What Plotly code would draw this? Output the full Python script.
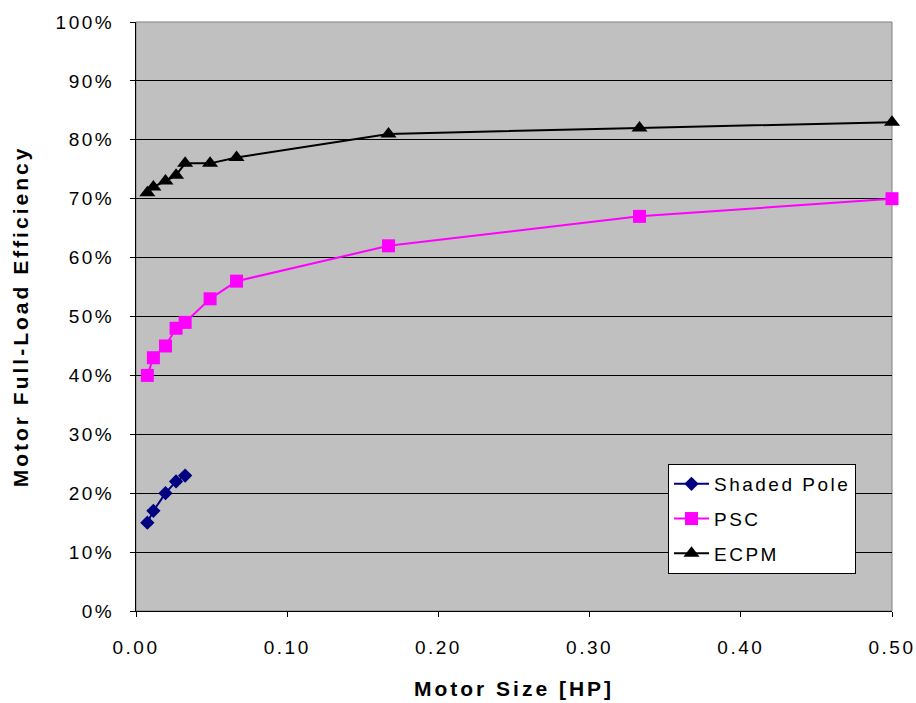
import plotly.graph_objects as go

motor_size_hp = [0.0075, 0.0115, 0.0195, 0.0265, 0.0325, 0.049, 0.0665, 0.167, 0.333, 0.5]
shaded_pole_size = [0.0075, 0.0115, 0.0195, 0.0265, 0.0325]
shaded_pole_eff = [15, 17, 20, 22, 23]
psc_eff = [40, 43, 45, 48, 49, 53, 56, 62, 67, 70]
ecpm_eff = [71, 72, 73, 74, 76, 76, 77, 81, 82, 83]

x_ticks = [0.0, 0.1, 0.2, 0.3, 0.4, 0.5]
y_ticks = [0, 10, 20, 30, 40, 50, 60, 70, 80, 90, 100]
y_tick_labels = ["0%", "10%", "20%", "30%", "40%", "50%", "60%", "70%", "80%", "90%", "100%"]

FONT = "Liberation Sans, Arial, sans-serif"

fig = go.Figure()
fig.add_trace(go.Scatter(
    x=shaded_pole_size, y=shaded_pole_eff, name="Shaded Pole", mode="lines+markers",
    line=dict(color="#000080", width=2),
    marker=dict(symbol="diamond", size=11, color="#000080"),
    legendgroup="a", cliponaxis=False))
fig.add_trace(go.Scatter(
    x=motor_size_hp, y=psc_eff, name="PSC", mode="lines+markers",
    line=dict(color="#FF00FF", width=2),
    marker=dict(symbol="square", size=13, color="#FF00FF"),
    legendgroup="b", cliponaxis=False))
fig.add_trace(go.Scatter(
    x=motor_size_hp, y=ecpm_eff, name="ECPM", mode="lines+markers",
    line=dict(color="#000000", width=2),
    marker=dict(symbol="triangle-up", size=14, color="#000000"),
    legendgroup="c", cliponaxis=False))

fig.update_layout(
    width=916, height=703,
    margin=dict(l=136, r=24, t=22, b=92),
    paper_bgcolor="white",
    plot_bgcolor="#C0C0C0",
    font=dict(family=FONT, size=19, color="black"),
    showlegend=True,
    legend=dict(
        x=0.7037, y=0.2496, xanchor="left", yanchor="top",
        bgcolor="white", bordercolor="black", borderwidth=1,
        font=dict(family=FONT, size=19, color="black"),
        tracegroupgap=7, itemwidth=35,
    ),
    xaxis=dict(
        range=[0, 0.5], tickvals=x_ticks, tickformat=".2f",
        showgrid=False, zeroline=False,
        showline=True, linecolor="black", linewidth=1,
        ticks="outside", ticklen=5, tickcolor="black",
        ticklabelstandoff=14,
        automargin=False,
        title=dict(text="<b>Motor Size [HP]</b>", font=dict(family=FONT, size=21), standoff=24),
    ),
    yaxis=dict(
        range=[0, 100], tickvals=y_ticks, ticktext=y_tick_labels,
        showgrid=True, gridcolor="black", gridwidth=1,
        zeroline=False,
        showline=True, linecolor="black", linewidth=1,
        ticks="outside", ticklen=5, tickcolor="black",
        ticklabelstandoff=12,
        automargin=False,
        title=dict(text="<b>Motor Full-Load Efficiency</b>", font=dict(family=FONT, size=21), standoff=31),
    ),
)
fig.add_shape(type="rect", xref="paper", yref="paper", x0=0, y0=0, x1=1, y1=1,
              line=dict(color="#808080", width=1), layer="below")

post = """
document.body.style.margin = '0';
document.body.style.overflow = 'hidden';
var gd = document.getElementById('{plot_id}');
function spaceText() {
  gd.querySelectorAll('.xtick text, .ytick text, .legendtext').forEach(function(t){ t.style.letterSpacing = '2.5px'; });
  gd.querySelectorAll('.xtitle, .ytitle').forEach(function(t){ t.style.letterSpacing = '3px'; });
  gd.querySelectorAll('.legend .scrollbox').forEach(function(s){ s.removeAttribute('clip-path'); });
  gd.querySelectorAll('.legend rect.bg').forEach(function(r){ r.setAttribute('width', '187'); });
}
spaceText();
setTimeout(spaceText, 0);
if (gd.on) { gd.on('plotly_afterplot', spaceText); }
"""

fig.write_html("out.html", post_script=post, config={"displayModeBar": False})
